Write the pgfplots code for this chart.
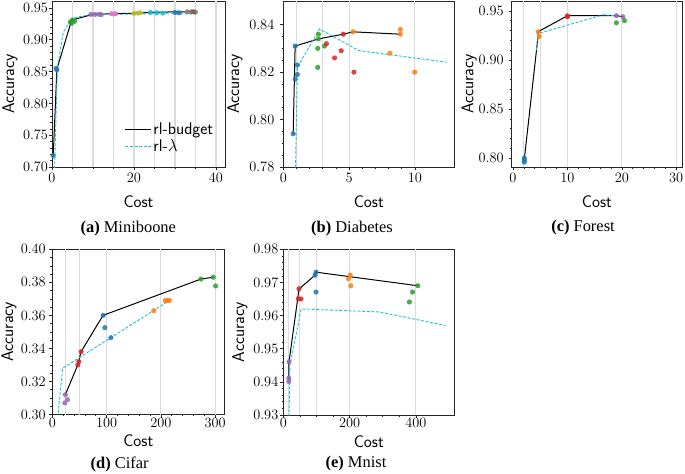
\documentclass[border=0pt]{standalone}
\usepackage{fontspec}
\usepackage{pgfplots}
\pgfplotsset{compat=1.18}
\newfontfamily\capfont{Liberation Serif}
\newcommand{\tfont}{\fontsize{15.5}{17}\selectfont}
\newcommand{\lfont}{\fontsize{17}{19}\selectfont\sffamily}
\definecolor{c1}{HTML}{1F77B4}
\definecolor{c2}{HTML}{FF7F0E}
\definecolor{c3}{HTML}{2CA02C}
\definecolor{c4}{HTML}{D62728}
\definecolor{c5}{HTML}{9467BD}
\definecolor{c6}{HTML}{8C564B}
\definecolor{c7}{HTML}{E377C2}
\definecolor{c8}{HTML}{7F7F7F}
\definecolor{c9}{HTML}{BCBD22}
\definecolor{c10}{HTML}{17BECF}
\definecolor{cyanc}{HTML}{1FC3CF}
\pgfplotsset{
 myax/.style={scale only axis, axis line style={black!85, line width=0.7bp},
   tick align=outside, xtick pos=bottom, ytick pos=left,
   major tick length=3bp, minor tick length=1.8bp,
   every tick/.style={black!85, line width=0.6bp},
   tick label style={font=\tfont}, label style={font=\lfont},
   scaled ticks=false,
   yticklabel style={/pgf/number format/.cd, fixed, fixed zerofill, precision=2},
   xticklabel style={/pgf/number format/.cd, fixed, precision=0},
   ylabel={Accuracy}, xlabel={Cost},
   ylabel style={anchor=center, rotate=0},
   xlabel style={anchor=center},
 },
 sc/.style={only marks, mark=*, mark size=2.3bp, forget plot,
   mark options={draw=#1, fill=#1, fill opacity=0.85, draw opacity=0.85}},
 budget/.style={black, line width=1bp, no marks},
 lam/.style={cyanc, line width=0.9bp, dash pattern=on 3bp off 1.6bp, no marks},
 gridx/.style={extra x ticks={#1}, extra x tick labels={},
   extra x tick style={grid=major, major grid style={black!14, line width=1.1bp}, major tick length=0pt}},
}
\begin{document}
\begin{tikzpicture}
\path[use as bounding box] (0,0) rectangle (685bp,-474bp);

% (a) Miniboone
\begin{axis}[myax, at={(52bp,-167bp)}, anchor=south west, width=173bp, height=166bp,
  xmin=0, xmax=42.2, ymin=0.70, ymax=0.961,
  xtick={0,20,40}, minor x tick num=3,
  ytick={0.70,0.75,0.80,0.85,0.90,0.95}, minor y tick num=4,
  yticklabel style={/tikz/xshift=2.5bp},
  gridx={5,10,15,20,25,30,35,40},
  ylabel style={at={(axis description cs:-0.243,0.5)}},
  xlabel style={at={(axis description cs:0.5,-0.211)}},
  legend style={at={(axis description cs:0.42,0.07)}, anchor=south west, draw=none, fill=none,
    font=\lfont, inner sep=0pt, row sep=0bp},
  legend cell align=left,
  legend image code/.code={\draw[#1] (0cm,0cm) -- (0.9cm,0cm);},
]
\addplot[sc=c1] coordinates {(0.3,0.718) (1.2,0.853) (1.0,0.855)};
\addplot[sc=c3] coordinates {(4.5,0.928) (5.0,0.931) (5.5,0.929) (4.8,0.926)};
\addplot[sc=c5] coordinates {(9.5,0.940) (10.5,0.940) (11.5,0.940) (12,0.9395)};
\addplot[sc=c7] coordinates {(14.5,0.941) (15.5,0.941) (15,0.9405)};
\addplot[sc=c9] coordinates {(20,0.9415) (21,0.942) (21.5,0.9425)};
\addplot[sc=c10] coordinates {(24,0.943) (25.5,0.9425) (27,0.942)};
\addplot[sc=c1] coordinates {(30,0.943) (31,0.9425)};
\addplot[sc=c8] coordinates {(33,0.944) (34,0.944) (35,0.9435)};
\addplot[sc=c6] coordinates {(34.5,0.944)};
\addplot[budget] coordinates {(0.3,0.718) (1.2,0.854) (4.8,0.931) (10,0.940) (15.3,0.941) (21,0.942) (24,0.943) (30,0.944) (35,0.944)};
\addlegendentry{rl-budget}
\addplot[lam] coordinates {(0.6,0.69) (1.3,0.857) (2.75,0.912) (4.8,0.934) (10,0.9405) (15,0.940) (20,0.9405) (25,0.941) (30,0.941) (35,0.9405)};
\addlegendentry{rl-$\lambda$}
\end{axis}

% (b) Diabetes
\begin{axis}[myax, at={(283.3bp,-167bp)}, anchor=south west, width=171bp, height=166bp,
  xmin=0, xmax=13.0, ymin=0.78, ymax=0.85,
  xtick={0,5,10}, minor x tick num=4,
  ytick={0.78,0.80,0.82,0.84}, minor y tick num=3,
  yticklabel style={/tikz/xshift=-2.5bp},
  gridx={1,3,5,10},
  ylabel style={at={(axis description cs:-0.282,0.5)}},
  xlabel style={at={(axis description cs:0.5,-0.211)}},
]
\addplot[sc=c1] coordinates {(0.75,0.794) (0.9,0.831) (0.9,0.817) (1.07,0.823) (1.07,0.819)};
\addplot[sc=c3] coordinates {(2.67,0.836) (2.67,0.834) (2.62,0.830) (2.62,0.822) (3.13,0.831)};
\addplot[sc=c4] coordinates {(3.28,0.832) (3.9,0.826) (4.4,0.829) (4.56,0.836) (5.37,0.820)};
\addplot[sc=c2] coordinates {(5.3,0.837) (8.9,0.838) (8.9,0.836) (8.1,0.828) (10,0.820)};
\addplot[budget] coordinates {(0.75,0.794) (0.9,0.831) (2.65,0.834) (4.56,0.836) (5.3,0.837) (8.9,0.836)};
\addplot[lam] coordinates {(0.9,0.77) (1.07,0.822) (2.75,0.8382) (5.73,0.8291) (12.4,0.8242)};
\end{axis}

% (c) Forest
\begin{axis}[myax, at={(511.7bp,-167bp)}, anchor=south west, width=170.5bp, height=166bp,
  xmin=-0.24, xmax=31.1, ymin=0.791, ymax=0.960,
  xtick={0,10,20,30}, minor x tick num=4,
  ytick={0.80,0.85,0.90,0.95}, minor y tick num=4,
  yticklabel style={/tikz/xshift=-1.5bp},
  gridx={2,5,10,20,30},
  ylabel style={at={(axis description cs:-0.249,0.5)}},
  xlabel style={at={(axis description cs:0.5,-0.211)}},
]
\addplot[sc=c1] coordinates {(2.07,0.800) (2.07,0.798) (2.07,0.796)};
\addplot[sc=c2] coordinates {(4.64,0.9286) (4.83,0.924)};
\addplot[sc=c4] coordinates {(10,0.9449) (10,0.944)};
\addplot[sc=c5] coordinates {(19,0.945) (20.2,0.944)};
\addplot[sc=c3] coordinates {(19,0.9378) (20.5,0.940)};
\addplot[budget] coordinates {(2.1,0.800) (4.7,0.929) (10,0.945) (19,0.945) (20.3,0.944)};
\addplot[lam] coordinates {(4.3,0.910) (4.7,0.927) (16.6,0.9459) (19,0.945)};
\end{axis}

% (d) Cifar
\begin{axis}[myax, at={(52.3bp,-414.5bp)}, anchor=south west, width=172bp, height=165.2bp,
  xmin=0, xmax=317, ymin=0.30, ymax=0.40,
  xtick={0,100,200,300}, minor x tick num=4,
  ytick={0.30,0.32,0.34,0.36,0.38,0.40}, minor y tick num=3,
  gridx={25,50,100,200,300},
  ylabel style={at={(axis description cs:-0.252,0.5)}},
  xlabel style={at={(axis description cs:0.5,-0.158)}},
  xticklabel style={/tikz/yshift=3bp},
]
\addplot[sc=c5] coordinates {(24,0.312) (23,0.307) (28,0.309)};
\addplot[sc=c4] coordinates {(53,0.338) (49,0.332) (47,0.330)};
\addplot[sc=c1] coordinates {(93.8,0.360) (96.9,0.3526) (108,0.3465)};
\addplot[sc=c2] coordinates {(187,0.3628) (208,0.369) (212,0.369) (216,0.369)};
\addplot[sc=c3] coordinates {(274,0.382) (296.7,0.3831) (301,0.3778)};
\addplot[budget] coordinates {(24,0.312) (47,0.330) (53,0.338) (93.5,0.360) (274,0.382) (296.7,0.3831)};
\addplot[lam] coordinates {(10,0.298) (19,0.328) (211,0.368)};
\end{axis}

% (e) Mnist
\begin{axis}[myax, at={(283.3bp,-415bp)}, anchor=south west, width=171bp, height=165.7bp,
  xmin=0, xmax=516, ymin=0.93, ymax=0.98,
  xtick={0,200,400}, minor x tick num=3,
  ytick={0.93,0.94,0.95,0.96,0.97,0.98}, minor y tick num=4,
  yticklabel style={/tikz/xshift=1.5bp},
  gridx={17,50,100,200,400},
  ylabel style={at={(axis description cs:-0.253,0.5)}},
  xlabel style={at={(axis description cs:0.5,-0.158)}},
  xticklabel style={/tikz/yshift=3bp},
]
\addplot[sc=c5] coordinates {(17.2,0.9461) (16.5,0.9411) (16.5,0.9401)};
\addplot[sc=c4] coordinates {(47.4,0.9681) (45.3,0.9651) (53.5,0.965)};
\addplot[sc=c1] coordinates {(98.8,0.9731) (95.8,0.9722) (98.8,0.9671)};
\addplot[sc=c2] coordinates {(201.5,0.9722) (196.4,0.9711) (203.6,0.969)};
\addplot[sc=c3] coordinates {(406,0.969) (390,0.9671) (380.6,0.9641)};
\addplot[budget] coordinates {(16.5,0.9401) (17.2,0.946) (47.4,0.968) (95.8,0.9722) (98.8,0.9731) (406,0.969)};
\addplot[lam] coordinates {(17,0.928) (20,0.945) (54,0.962) (290,0.9611) (490,0.957)};
\end{axis}

\node[font=\capfont\fontsize{16.5}{18}\selectfont] at (128.3bp,-229bp) {\textbf{(a)} Miniboone};
\node[font=\capfont\fontsize{16.5}{18}\selectfont] at (352bp,-229bp) {\textbf{(b)} Diabetes};
\node[font=\capfont\fontsize{16.5}{18}\selectfont] at (583bp,-228bp) {\textbf{(c)} Forest};
\node[font=\capfont\fontsize{16.5}{18}\selectfont] at (119.7bp,-464bp) {\textbf{(d)} Cifar};
\node[font=\capfont\fontsize{16.5}{18}\selectfont] at (356bp,-464bp) {\textbf{(e)} Mnist};
\end{tikzpicture}
\end{document}
